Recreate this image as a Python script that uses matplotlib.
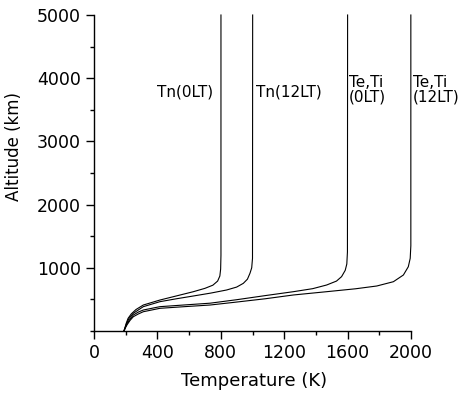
import matplotlib
matplotlib.use("Agg")
import matplotlib.pyplot as plt
from matplotlib.ticker import MultipleLocator

# Temperature (K) vs altitude (km) profiles
tn0_T = [189, 195, 203, 215, 235, 265, 311, 416, 520, 627, 700, 750, 780, 794, 799, 801, 801]
tn0_h = [0, 50, 120, 200, 270, 340, 411, 490, 555, 622, 675, 725, 790, 870, 980, 1200, 5000]

tn12_T = [189, 196, 205, 220, 248, 311, 416, 520, 627, 737, 837, 900, 942, 968, 984, 995, 1000, 1001]
tn12_h = [0, 50, 115, 195, 280, 385, 464, 510, 554, 600, 649, 695, 754, 820, 913, 1000, 1150, 5000]

te0_T = [189, 197, 207, 225, 248, 280, 311, 416, 570, 732, 900, 1080, 1258, 1380, 1468, 1530, 1562, 1585, 1595, 1599, 1600]
te0_h = [0, 50, 110, 180, 253, 300, 332, 385, 412, 440, 495, 560, 622, 670, 728, 790, 860, 960, 1060, 1250, 5000]

te12_T = [189, 198, 209, 228, 248, 280, 311, 416, 570, 732, 900, 1080, 1258, 1468, 1650, 1784, 1889, 1952, 1983, 1995, 1999, 1999]
te12_h = [0, 50, 100, 170, 226, 270, 305, 359, 385, 411, 458, 510, 570, 622, 668, 712, 780, 886, 1017, 1150, 1350, 5000]

labels = ["Tn(0LT)", "Tn(12LT)", "Te,Ti\n(0LT)", "Te,Ti\n(12LT)"]
label_T = [397, 1022, 1609, 2013]
label_h = [3774, 3774, 3820, 3820]

x_ticks = [0, 400, 800, 1200, 1600, 2000]
y_ticks = [1000, 2000, 3000, 4000, 5000]

fig = plt.figure(figsize=(4.69, 3.95), dpi=100)
ax = fig.add_axes([94/469, 64/395, 317/469, 316/395])

for T, h in [(tn0_T, tn0_h), (tn12_T, tn12_h), (te0_T, te0_h), (te12_T, te12_h)]:
    ax.plot(T, h, color="black", lw=0.8, clip_on=False)

for lab, T, h in zip(labels, label_T, label_h):
    ax.text(T, h, lab, fontsize=11, ha="left", va="center", linespacing=0.95)

ax.set_xlim(0, 2000)
ax.set_ylim(0, 5000)
ax.set_xticks(x_ticks)
ax.set_yticks(y_ticks)
ax.xaxis.set_minor_locator(MultipleLocator(200))
ax.yaxis.set_minor_locator(MultipleLocator(500))
ax.spines["top"].set_visible(False)
ax.spines["right"].set_visible(False)
for s in ["left", "bottom"]:
    ax.spines[s].set_linewidth(1.0)
ax.tick_params(which="major", direction="out", length=6, width=1.0, labelsize=12.5)
ax.tick_params(which="minor", direction="out", length=3, width=1.0)
ax.set_xlabel("Temperature (K)", fontsize=13)
ax.set_ylabel("Altitude (km)", fontsize=12)
ax.xaxis.set_label_coords(0.506, -0.13)
ax.yaxis.set_label_coords(-0.224, 0.585)

fig.savefig("out.png", dpi=100)
